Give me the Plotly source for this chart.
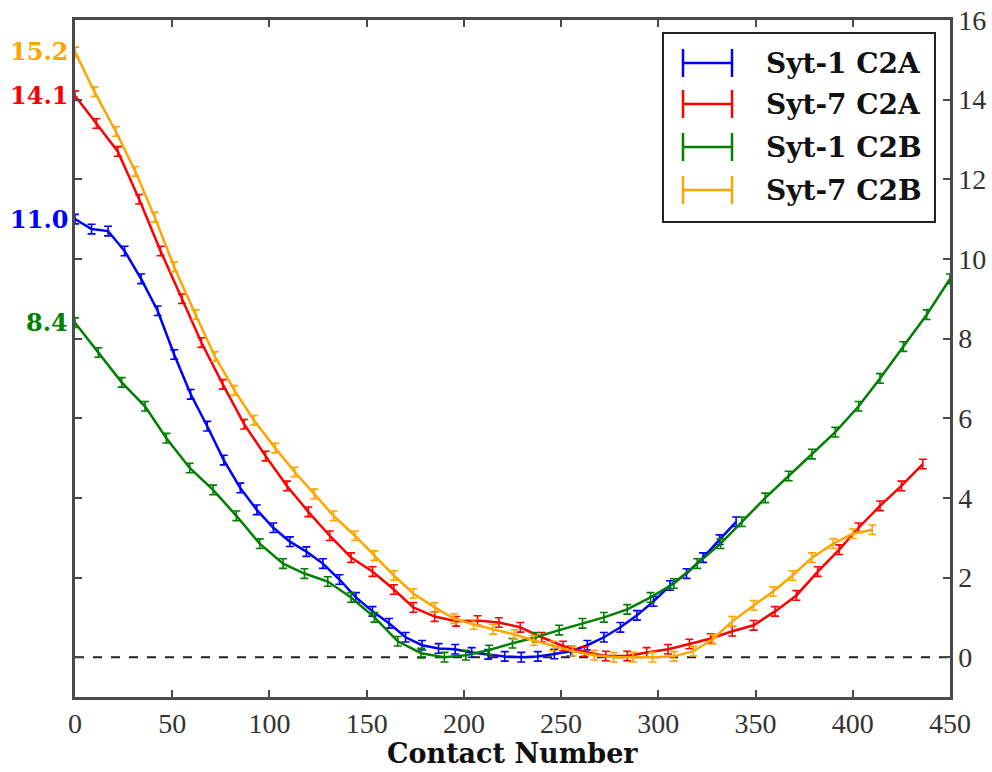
import plotly.graph_objects as go

# Free-energy profiles along the contact-number coordinate
syt1_c2a_x = [0, 8.5, 17, 25.5, 34, 42.5, 51, 59.5, 68, 76.5, 85, 93.5, 102, 110.5, 119, 127.5,
              136, 144.5, 153, 161.5, 170, 178.5, 187, 195.5, 204, 212.5, 221, 229.5, 238, 246.5,
              255, 263.5, 272, 280.5, 289, 297.5, 306, 314.5, 323, 331.5, 340]
syt1_c2a_y = [11.0, 10.75, 10.7, 10.2, 9.5, 8.7, 7.6, 6.6, 5.8, 4.95, 4.25, 3.7, 3.25, 2.9, 2.65, 2.35,
              1.95, 1.5, 1.15, 0.85, 0.5, 0.3, 0.22, 0.2, 0.12, 0.07, 0.02, 0.0, 0.02, 0.08,
              0.15, 0.3, 0.5, 0.75, 1.05, 1.4, 1.8, 2.1, 2.5, 2.95, 3.4]

syt7_c2a_x = [0, 11, 22, 33, 44, 55, 65, 76, 87, 98, 109, 120, 131, 142, 153, 164, 174, 185, 196, 207,
              218, 229, 240, 251, 262, 273, 284, 294, 305, 316, 327, 338, 349, 360, 371, 382, 393,
              403, 414, 425, 436]
syt7_c2a_y = [14.1, 13.4, 12.7, 11.5, 10.2, 9.0, 7.9, 6.85, 5.85, 5.05, 4.3, 3.65, 3.05, 2.5, 2.15, 1.7,
              1.25, 1.02, 0.9, 0.92, 0.87, 0.75, 0.5, 0.28, 0.14, 0.03, 0.03, 0.12, 0.2, 0.33, 0.47,
              0.65, 0.8, 1.15, 1.55, 2.15, 2.7, 3.25, 3.8, 4.3, 4.85]

syt1_c2b_x = [0, 12, 24, 36, 47, 59, 71, 83, 95, 107, 118, 130, 142, 154, 166, 178, 190, 201, 213,
              225, 237, 249, 261, 272, 284, 296, 308, 320, 332, 343, 355, 367, 379, 391, 403, 414,
              426, 438, 450]
syt1_c2b_y = [8.4, 7.65, 6.9, 6.3, 5.5, 4.75, 4.2, 3.55, 2.85, 2.35, 2.1, 1.9, 1.5, 1.0, 0.4, 0.1, 0.0,
              0.05, 0.18, 0.35, 0.5, 0.68, 0.85, 1.0, 1.2, 1.5, 1.85, 2.35, 2.85, 3.4, 4.0, 4.55,
              5.1, 5.65, 6.3, 7.0, 7.8, 8.6, 9.5]

syt7_c2b_x = [0, 10, 21, 31, 41, 51, 62, 72, 82, 92, 103, 113, 123, 133, 144, 154, 164, 174, 185,
              195, 205, 215, 226, 236, 246, 256, 267, 277, 287, 297, 308, 318, 328, 338, 349, 359,
              369, 379, 390, 400, 410]
syt7_c2b_y = [15.2, 14.2, 13.2, 12.2, 11.05, 9.8, 8.6, 7.55, 6.7, 5.95, 5.25, 4.65, 4.1, 3.55, 3.05,
              2.55, 2.05, 1.6, 1.25, 0.97, 0.82, 0.7, 0.57, 0.42, 0.28, 0.15, 0.05, 0.0, 0.0, 0.0,
              0.02, 0.15, 0.45, 0.9, 1.3, 1.65, 2.05, 2.5, 2.85, 3.1, 3.2]

series_names = ["Syt-1 C2A", "Syt-7 C2A", "Syt-1 C2B", "Syt-7 C2B"]
series_x = [syt1_c2a_x, syt7_c2a_x, syt1_c2b_x, syt7_c2b_x]
series_y = [syt1_c2a_y, syt7_c2a_y, syt1_c2b_y, syt7_c2b_y]
series_err = [0.12, 0.12, 0.12, 0.12]
colors = ["#0000ff", "#ff0000", "#008000", "#ffa500"]

x_ticks = [0, 50, 100, 150, 200, 250, 300, 350, 400, 450]
y_ticks = [0, 2, 4, 6, 8, 10, 12, 14, 16]

# plot-area geometry in pixels (used to place the hand-drawn legend)
W, H = 992, 772
ML, MR, MT, MB = 75, 42, 20, 75
PW, PH = W - ML - MR, H - MT - MB


def px_to_paper(px, py):
    return (px - ML) / PW, (H - MB - py) / PH


AXIS = "#4a4a4a"
SERIF = "Liberation Serif"
BOLD_SERIF = "DejaVu Serif"

fig = go.Figure()

for name, xs, ys, err, col in zip(series_names, series_x, series_y, series_err, colors):
    fig.add_trace(go.Scatter(
        x=xs, y=ys, mode="lines", name=name,
        line=dict(color=col, width=2.5),
        error_y=dict(type="constant", value=err, color=col, thickness=1.6, width=4),
        showlegend=False,
    ))

# zero reference
fig.add_shape(type="line", xref="x", yref="y", x0=0, x1=450, y0=0, y1=0,
              line=dict(color="#222222", width=2, dash="dash"), layer="below")

# barrier heights written beside the left frame, taken from the first point of each profile
for ys, col in zip(series_y, colors):
    fig.add_annotation(xref="paper", yref="y", x=-5 / PW, y=ys[0], text=f"<b>{ys[0]:.1f}</b>",
                       showarrow=False, xanchor="right", yanchor="middle",
                       font=dict(family=BOLD_SERIF, size=24, color=col))

# axis title
_, ty_c = px_to_paper(0, 754)
fig.add_annotation(xref="paper", yref="paper", x=0.5, y=ty_c, text="<b>Contact Number</b>",
                   showarrow=False, xanchor="center", yanchor="middle",
                   font=dict(family=BOLD_SERIF, size=27, color="#111111"))

# legend box with error-bar glyphs
bx0, by0 = px_to_paper(663, 222)
bx1, by1 = px_to_paper(935, 33)
fig.add_shape(type="rect", xref="paper", yref="paper", x0=bx0, y0=by0, x1=bx1, y1=by1,
              line=dict(color="#222222", width=2), fillcolor="white", layer="above")
row_py = [63, 104, 147, 190]
for name, col, py in zip(series_names, colors, row_py):
    gx0, gy = px_to_paper(683, py)
    gx1, _ = px_to_paper(732, py)
    _, gtop = px_to_paper(0, py - 14)
    _, gbot = px_to_paper(0, py + 14)
    fig.add_shape(type="line", xref="paper", yref="paper", x0=gx0, x1=gx1, y0=gy, y1=gy,
                  line=dict(color=col, width=2.5), layer="above")
    for gx in (gx0, gx1):
        fig.add_shape(type="line", xref="paper", yref="paper", x0=gx, x1=gx, y0=gbot, y1=gtop,
                      line=dict(color=col, width=2.5), layer="above")
    tx, _ = px_to_paper(764, py)
    fig.add_annotation(xref="paper", yref="paper", x=tx, y=gy, text=f"<b>{name}</b>",
                       showarrow=False, xanchor="left", yanchor="middle",
                       font=dict(family=BOLD_SERIF, size=28, color="#111111"))

fig.update_layout(
    width=W, height=H,
    margin=dict(l=ML, r=MR, t=MT, b=MB, pad=0, autoexpand=False),
    paper_bgcolor="white", plot_bgcolor="white",
    xaxis=dict(
        range=[0, 450], tickvals=x_ticks, ticks="inside", ticklen=7, tickwidth=1.5,
        tickcolor=AXIS, showline=True, linecolor=AXIS, linewidth=2.5, mirror="ticks",
        showgrid=False, zeroline=False, automargin=False,
        tickfont=dict(family=SERIF, size=28, color="#333333"),
    ),
    yaxis=dict(
        range=[-1, 16], tickvals=y_ticks, side="right", ticks="inside", ticklen=7, tickwidth=1.5,
        tickcolor=AXIS, showline=True, linecolor=AXIS, linewidth=2.5, mirror="ticks",
        showgrid=False, zeroline=False, automargin=False,
        tickfont=dict(family=SERIF, size=28, color="#333333"),
    ),
)

fig.write_html("out.html")
